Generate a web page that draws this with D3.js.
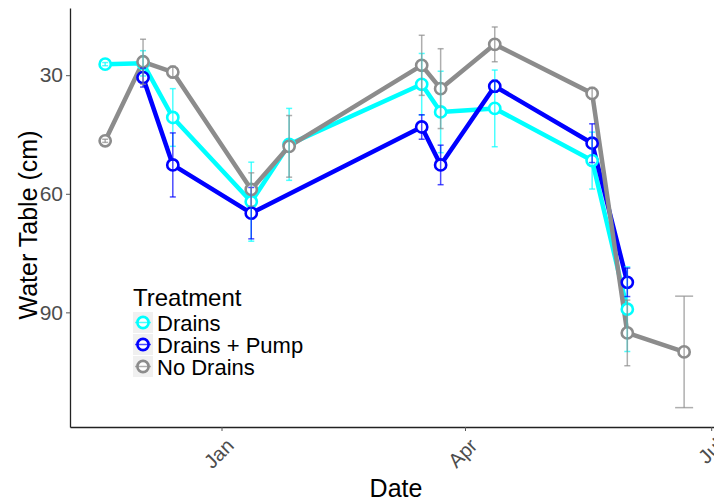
<!DOCTYPE html>
<html>
<head>
<meta charset="utf-8">
<script src="https://cdn.jsdelivr.net/npm/d3@7"></script>
<style>
  body { margin: 0; background: #fff; }
  svg { font-family: "Liberation Sans", Arial, sans-serif; }
</style>
</head>
<body>
<div id="chart"></div>
<script>
// sampling dates
const dates = ['2014-11-19', '2014-12-03', '2014-12-14', '2015-01-12', '2015-01-26',
  '2015-03-16', '2015-03-23', '2015-04-12', '2015-05-18', '2015-05-31', '2015-06-21'];

// mean water table depth (cm) and standard error, per treatment
const drains = [27.2, 27.0, 40.7, 62.0, 47.5, 32.3, 39.3, 38.4, 51.6, 89.2, null];
const drainsSE = [0.4, 3.2, 7.3, 10.0, 9.1, 7.8, 10.3, 9.7, 7.2, 10.7, null];
const pump = [null, 30.6, 52.7, 64.9, null, 43.1, 52.7, 32.8, 47.2, 82.4, null];
const pumpSE = [null, 2.4, 8.1, 6.5, null, 3.1, 5.0, 1.5, 4.9, 3.6, null];
const noDrains = [46.6, 26.6, 29.2, 58.9, 48.0, 27.5, 33.4, 22.2, 34.6, 95.2, 100.0];
const noDrainsSE = [0.4, 5.7, 1.5, 4.2, 7.8, 7.6, 10.1, 4.4, 1.5, 8.3, 14.1];

const treatments = ['Drains', 'Drains + Pump', 'No Drains'];
const yTicks = [30, 60, 90];
const xTicks = ['2015-01-01', '2015-04-01', '2015-07-01'];

const colors = { 'Drains': '#00ffff', 'Drains + Pump': '#0000ff', 'No Drains': '#8c8c8c' };

const width = 714;
const height = 502;
const margin = { top: 8, right: -8, bottom: 75, left: 70 };

const parse = d3.timeParse('%Y-%m-%d');

const series = [
  { name: 'Drains', means: drains, se: drainsSE },
  { name: 'Drains + Pump', means: pump, se: pumpSE },
  { name: 'No Drains', means: noDrains, se: noDrainsSE }
].map(s => ({
  name: s.name,
  values: dates.map((d, i) => ({ date: parse(d), mean: s.means[i], se: s.se[i], i }))
    .filter(p => p.mean != null)
}));

const svg = d3.select('#chart').append('svg')
  .attr('width', width)
  .attr('height', height);

const xScale = d3.scaleTime()
  .domain([parse('2014-11-06'), parse('2015-07-05')])
  .range([margin.left, width - margin.right]);

// depth increases downward
const yScale = d3.scaleLinear()
  .domain([13, 119])
  .range([margin.top, height - margin.bottom]);

// axes
const xAxis = svg.append('g')
  .attr('transform', `translate(0, ${height - margin.bottom})`)
  .call(d3.axisBottom(xScale)
    .tickValues(xTicks.map(parse))
    .tickFormat(d3.timeFormat('%b'))
    .tickSize(4)
    .tickSizeOuter(0));
xAxis.select('.domain').attr('stroke', '#222').attr('stroke-width', 1.3);
xAxis.selectAll('.tick line').attr('stroke', '#555');
xAxis.selectAll('.tick text')
  .attr('fill', '#4d4d4d')
  .attr('font-size', 20)
  .attr('text-anchor', 'end')
  .attr('dy', null)
  .attr('y', 0)
  .attr('transform', 'translate(13, 20) rotate(-45)');

const yAxis = svg.append('g')
  .attr('transform', `translate(${margin.left}, 0)`)
  .call(d3.axisLeft(yScale)
    .tickValues(yTicks)
    .tickSize(4)
    .tickSizeOuter(0));
yAxis.select('.domain').attr('stroke', '#222').attr('stroke-width', 1.3);
yAxis.selectAll('.tick line').attr('stroke', '#555');
yAxis.selectAll('.tick text')
  .attr('fill', '#4d4d4d')
  .attr('font-size', 21)
  .attr('x', -7);

// axis titles
svg.append('text')
  .attr('x', 396)
  .attr('y', 497)
  .attr('text-anchor', 'middle')
  .attr('font-size', 25)
  .text('Date');

svg.append('text')
  .attr('transform', 'translate(37, 225) rotate(-90)')
  .attr('text-anchor', 'middle')
  .attr('font-size', 25)
  .text('Water Table (cm)');

// lines
const line = d3.line()
  .x(d => xScale(d.date))
  .y(d => yScale(d.mean));

svg.append('g').selectAll('path')
  .data(series)
  .enter()
  .append('path')
  .attr('d', d => line(d.values))
  .attr('fill', 'none')
  .attr('stroke', d => colors[d.name])
  .attr('stroke-width', 4.5)
  .attr('stroke-linejoin', 'round');

// points
svg.append('g').selectAll('g')
  .data(series)
  .enter()
  .append('g')
  .attr('stroke', d => colors[d.name])
  .selectAll('circle')
  .data(d => d.values)
  .enter()
  .append('circle')
  .attr('cx', d => xScale(d.date))
  .attr('cy', d => yScale(d.mean))
  .attr('r', 5.6)
  .attr('fill', '#fff')
  .attr('stroke-width', 2.6);

// count how many series share each date, lone points get a wider cap
const shared = dates.map((d, i) => series.filter(s => s.values.some(v => v.i === i)).length);

const bars = svg.append('g').selectAll('g')
  .data(series)
  .enter()
  .append('g')
  .attr('stroke', d => colors[d.name])
  .attr('stroke-opacity', 0.7)
  .attr('stroke-width', 1.5)
  .selectAll('g')
  .data(d => d.values)
  .enter()
  .append('g');

bars.append('line')
  .attr('x1', d => xScale(d.date))
  .attr('x2', d => xScale(d.date))
  .attr('y1', d => yScale(d.mean - d.se))
  .attr('y2', d => yScale(d.mean + d.se));

['-', '+'].forEach(sign => {
  bars.append('line')
    .attr('x1', d => xScale(d.date) - (shared[d.i] > 1 ? 3 : 9))
    .attr('x2', d => xScale(d.date) + (shared[d.i] > 1 ? 3 : 9))
    .attr('y1', d => yScale(sign === '-' ? d.mean - d.se : d.mean + d.se))
    .attr('y2', d => yScale(sign === '-' ? d.mean - d.se : d.mean + d.se));
});

// legend
const legend = svg.append('g').attr('transform', 'translate(133, 0)');

legend.append('text')
  .attr('x', 0)
  .attr('y', 306)
  .attr('font-size', 24)
  .text('Treatment');

const keys = legend.selectAll('g.key')
  .data(treatments)
  .enter()
  .append('g')
  .attr('class', 'key')
  .attr('transform', (d, i) => `translate(0, ${312 + i * 22})`);

keys.append('rect')
  .attr('width', 20)
  .attr('height', 21)
  .attr('fill', '#f0f0f0');

keys.append('circle')
  .attr('cx', 10)
  .attr('cy', 10.5)
  .attr('r', 5.6)
  .attr('fill', '#fff')
  .attr('stroke', d => colors[d])
  .attr('stroke-width', 2.6);

keys.append('line')
  .attr('x1', 2)
  .attr('x2', 18)
  .attr('y1', 10.5)
  .attr('y2', 10.5)
  .attr('stroke', d => colors[d])
  .attr('stroke-opacity', 0.7)
  .attr('stroke-width', 1.5);

keys.append('text')
  .attr('x', 24)
  .attr('y', 18.5)
  .attr('font-size', 22)
  .text(d => d);
</script>
</body>
</html>
